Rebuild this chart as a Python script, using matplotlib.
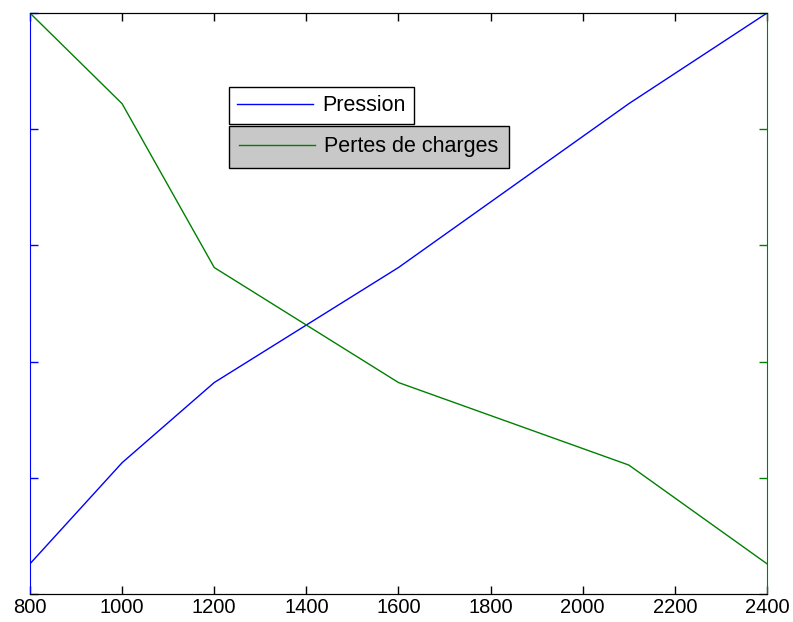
import matplotlib.pyplot as plt

# débit (x) et courbes normalisées (pas de graduations affichées en y)
debit = [800, 1000, 1200, 1600, 2100, 2400]
pression = [0.26, 1.13, 1.82, 2.81, 4.22, 5.0]
pertes = [5.0, 4.22, 2.81, 1.82, 1.11, 0.26]
x_ticks = [800, 1000, 1200, 1400, 1600, 1800, 2000, 2200, 2400]

BLUE = "#0000ff"
GREEN = "#008000"

plt.rcParams["font.family"] = ["Liberation Sans", "DejaVu Sans"]

fig = plt.figure(figsize=(7.93, 6.22), dpi=100)
ax1 = fig.add_axes([0.0378, 0.045, 0.9294, 0.934])
ax2 = ax1.twinx()

l1, = ax1.plot(debit, pression, color=BLUE, lw=1)
l2, = ax2.plot(debit, pertes, color=GREEN, lw=1)

for ax in (ax1, ax2):
    ax.set_xlim(800, 2400)
    ax.set_ylim(0, 5)
    ax.set_yticks([0, 1, 2, 3, 4, 5])
    ax.set_yticklabels([])

ax1.set_xticks(x_ticks)
ax1.set_xticklabels([str(v) for v in x_ticks], fontsize=14.5)
ax1.tick_params(axis="x", direction="in", length=6, width=1, top=True, pad=3)
ax1.tick_params(axis="y", direction="in", length=6, width=1, colors=BLUE)
ax2.tick_params(axis="y", direction="in", length=6, width=1, colors=GREEN)

ax1.spines["left"].set_color(BLUE)
ax2.spines["left"].set_visible(False)
ax2.spines["right"].set_color(GREEN)
ax1.spines["right"].set_visible(False)
for ax in (ax1, ax2):
    ax.spines["top"].set_color("black")
    ax.spines["bottom"].set_color("black")

leg_kw = dict(loc="upper left", fontsize=15.5, frameon=True, fancybox=False,
              handlelength=3.5, borderaxespad=0, handletextpad=0.45)

leg1 = fig.legend([l1], ["Pression"], bbox_to_anchor=(229 / 793, 1 - 87 / 622),
                  borderpad=0.38, **leg_kw)
leg1.get_frame().set_facecolor("white")
leg1.get_frame().set_edgecolor("black")
leg1.get_frame().set_alpha(1)

leg2 = fig.legend([l2], ["Pertes de charges"], bbox_to_anchor=(229 / 793, 1 - 126 / 622),
                  borderpad=0.48, **leg_kw)
leg2.get_frame().set_facecolor("#c8c8c8")
leg2.get_frame().set_edgecolor("black")
leg2.get_frame().set_alpha(1)

fig.savefig("out.png", dpi=100)
